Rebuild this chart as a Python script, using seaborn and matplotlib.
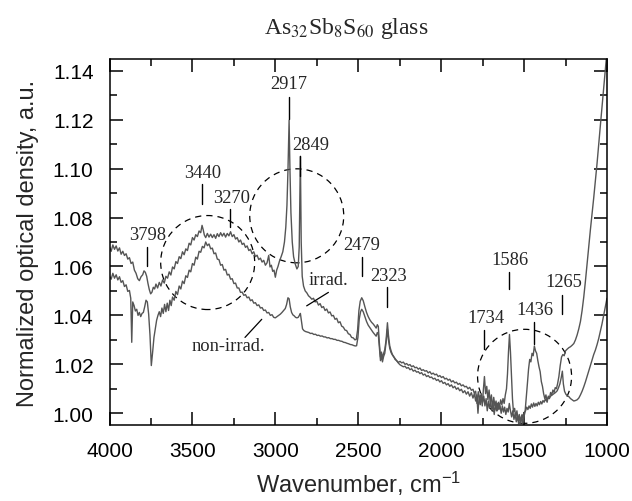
import numpy as np
import pandas as pd
import matplotlib
matplotlib.use("Agg")
import matplotlib.pyplot as plt
from matplotlib.patches import Ellipse
import seaborn as sns

# spectra (wavenumber cm-1, normalized optical density)
irrad_pts = [
    (4000, 1.0680), (3990, 1.0662), (3980, 1.0688), (3970, 1.0670), (3960, 1.0684), (3950, 1.0663),
    (3940, 1.0676), (3930, 1.0650), (3920, 1.0662), (3910, 1.0645), (3900, 1.0652), (3890, 1.0630),
    (3880, 1.0636), (3870, 1.0612), (3860, 1.0618), (3850, 1.0585), (3840, 1.0572), (3830, 1.0550),
    (3820, 1.0542), (3810, 1.0558), (3800, 1.0566), (3792, 1.0582), (3784, 1.0576), (3776, 1.0560),
    (3768, 1.0530), (3760, 1.0505), (3752, 1.0488), (3744, 1.0495), (3736, 1.0515), (3728, 1.0508),
    (3720, 1.0528), (3710, 1.0512), (3700, 1.0535), (3690, 1.0520), (3680, 1.0545), (3670, 1.0532),
    (3660, 1.0560), (3650, 1.0552), (3640, 1.0578), (3630, 1.0565), (3620, 1.0598), (3610, 1.0590),
    (3600, 1.0620), (3590, 1.0612), (3580, 1.0640), (3570, 1.0632), (3560, 1.0660), (3550, 1.0648),
    (3540, 1.0672), (3530, 1.0665), (3520, 1.0695), (3510, 1.0688), (3500, 1.0718), (3490, 1.0708),
    (3480, 1.0730), (3470, 1.0722), (3460, 1.0745), (3450, 1.0738), (3442, 1.0768), (3435, 1.0750),
    (3428, 1.0728), (3420, 1.0718), (3410, 1.0735), (3400, 1.0720), (3390, 1.0732), (3380, 1.0718),
    (3370, 1.0730), (3360, 1.0715), (3350, 1.0734), (3340, 1.0722), (3330, 1.0738), (3320, 1.0724),
    (3310, 1.0736), (3300, 1.0720), (3290, 1.0735), (3280, 1.0725), (3270, 1.0742), (3260, 1.0722),
    (3250, 1.0730), (3240, 1.0712), (3230, 1.0718), (3220, 1.0700), (3210, 1.0708), (3200, 1.0690),
    (3190, 1.0695), (3180, 1.0678), (3170, 1.0684), (3160, 1.0665), (3150, 1.0670), (3140, 1.0652),
    (3130, 1.0660), (3120, 1.0640), (3110, 1.0646), (3100, 1.0628), (3090, 1.0634), (3080, 1.0618),
    (3070, 1.0625), (3060, 1.0605), (3050, 1.0615), (3040, 1.0645), (3032, 1.0598), (3024, 1.0605),
    (3016, 1.0580), (3008, 1.0585), (3000, 1.0556), (2992, 1.0585), (2984, 1.0600), (2975, 1.0622),
    (2965, 1.0640), (2955, 1.0660), (2945, 1.0700), (2937, 1.0760), (2930, 1.0850), (2924, 1.0990),
    (2917, 1.1198), (2912, 1.1000), (2906, 1.0820), (2898, 1.0700), (2890, 1.0640), (2880, 1.0610),
    (2870, 1.0590), (2862, 1.0600), (2856, 1.0680), (2849, 1.1050), (2844, 1.0700), (2838, 1.0560),
    (2830, 1.0520), (2820, 1.0500), (2810, 1.0492), (2800, 1.0480), (2790, 1.0474), (2780, 1.0466),
    (2770, 1.0470), (2760, 1.0455), (2750, 1.0458), (2740, 1.0442), (2730, 1.0448), (2720, 1.0432),
    (2710, 1.0436), (2700, 1.0420), (2690, 1.0426), (2680, 1.0410), (2670, 1.0414), (2660, 1.0398),
    (2650, 1.0400), (2640, 1.0384), (2630, 1.0388), (2620, 1.0370), (2610, 1.0374), (2600, 1.0356),
    (2590, 1.0352), (2580, 1.0340), (2570, 1.0338), (2560, 1.0325), (2550, 1.0322), (2540, 1.0310),
    (2530, 1.0308), (2520, 1.0300), (2512, 1.0302), (2504, 1.0340), (2496, 1.0420), (2488, 1.0458),
    (2479, 1.0472), (2470, 1.0460), (2460, 1.0435), (2450, 1.0412), (2440, 1.0395), (2430, 1.0382),
    (2420, 1.0372), (2410, 1.0365), (2400, 1.0356), (2392, 1.0348), (2385, 1.0362), (2379, 1.0355),
    (2373, 1.0290), (2366, 1.0230), (2360, 1.0250), (2354, 1.0225), (2347, 1.0245), (2340, 1.0260),
    (2332, 1.0300), (2324, 1.0370), (2318, 1.0320), (2310, 1.0275), (2302, 1.0255), (2294, 1.0240),
    (2286, 1.0232), (2278, 1.0220), (2268, 1.0215), (2258, 1.0208), (2248, 1.0212), (2238, 1.0206),
    (2228, 1.0209), (2218, 1.0200), (2208, 1.0203), (2198, 1.0196), (2188, 1.0199), (2178, 1.0190),
    (2168, 1.0194), (2158, 1.0186), (2148, 1.0188), (2138, 1.0180), (2128, 1.0185), (2118, 1.0175),
    (2108, 1.0178), (2098, 1.0172), (2088, 1.0174), (2078, 1.0165), (2068, 1.0170), (2058, 1.0160),
    (2048, 1.0164), (2038, 1.0157), (2028, 1.0160), (2018, 1.0150), (2008, 1.0154), (1998, 1.0146),
    (1988, 1.0150), (1978, 1.0140), (1968, 1.0143), (1958, 1.0135), (1948, 1.0139), (1938, 1.0128),
    (1928, 1.0133), (1918, 1.0124), (1908, 1.0127), (1898, 1.0118), (1888, 1.0122), (1878, 1.0112),
    (1868, 1.0116), (1858, 1.0108), (1848, 1.0110), (1838, 1.0100), (1828, 1.0106), (1818, 1.0094),
    (1808, 1.0098), (1800, 1.0082), (1792, 1.0090), (1784, 1.0040), (1776, 1.0088), (1768, 1.0060),
    (1760, 1.0075), (1752, 1.0030), (1745, 1.0100), (1739, 1.0150), (1732, 1.0080), (1725, 1.0110),
    (1718, 1.0055), (1711, 1.0095), (1704, 1.0040), (1697, 1.0075), (1690, 1.0020), (1683, 1.0065),
    (1676, 1.0030), (1669, 1.0050), (1662, 1.0010), (1655, 1.0045), (1648, 1.0025), (1641, 1.0055),
    (1634, 1.0035), (1627, 1.0060), (1620, 1.0040), (1613, 1.0075), (1606, 1.0100), (1600, 1.0160),
    (1594, 1.0250), (1588, 1.0322), (1582, 1.0250), (1576, 1.0150), (1570, 1.0060), (1564, 1.0005),
    (1557, 1.0020), (1550, 0.9985), (1543, 1.0010), (1536, 0.9970), (1529, 0.9995), (1522, 0.9960),
    (1515, 0.9990), (1508, 0.9958), (1501, 0.9985), (1494, 1.0005), (1487, 1.0060), (1480, 1.0120),
    (1473, 1.0180), (1466, 1.0220), (1459, 1.0210), (1452, 1.0245), (1445, 1.0235), (1438, 1.0275),
    (1431, 1.0255), (1424, 1.0245), (1417, 1.0215), (1410, 1.0190), (1403, 1.0170), (1396, 1.0130),
    (1389, 1.0110), (1382, 1.0080), (1375, 1.0060), (1368, 1.0075), (1361, 1.0045), (1354, 1.0070),
    (1347, 1.0060), (1340, 1.0085), (1333, 1.0075), (1326, 1.0095), (1319, 1.0085), (1312, 1.0105),
    (1305, 1.0100), (1298, 1.0120), (1290, 1.0150), (1282, 1.0195), (1274, 1.0230), (1266, 1.0240),
    (1258, 1.0235), (1250, 1.0255), (1240, 1.0262), (1230, 1.0268), (1220, 1.0272), (1210, 1.0278),
    (1200, 1.0285), (1190, 1.0300), (1180, 1.0320), (1170, 1.0345), (1160, 1.0375), (1150, 1.0420),
    (1140, 1.0475), (1130, 1.0540), (1120, 1.0610), (1110, 1.0680), (1100, 1.0750), (1090, 1.0815),
    (1080, 1.0880), (1070, 1.0950), (1060, 1.1020), (1050, 1.1100), (1040, 1.1175), (1030, 1.1250),
    (1020, 1.1320), (1010, 1.1400), (1004, 1.1450), (1000, 1.1480),
]

nonirrad_pts = [
    (4000, 1.0560), (3990, 1.0548), (3980, 1.0572), (3970, 1.0552), (3960, 1.0566), (3950, 1.0545),
    (3940, 1.0558), (3930, 1.0535), (3920, 1.0542), (3910, 1.0518), (3900, 1.0525), (3890, 1.0498),
    (3880, 1.0502), (3872, 1.0470), (3866, 1.0290), (3860, 1.0455), (3852, 1.0440), (3844, 1.0418),
    (3836, 1.0425), (3828, 1.0400), (3820, 1.0412), (3812, 1.0395), (3804, 1.0408), (3796, 1.0412),
    (3788, 1.0435), (3780, 1.0462), (3772, 1.0455), (3764, 1.0405), (3756, 1.0320), (3748, 1.0195),
    (3740, 1.0250), (3732, 1.0310), (3724, 1.0345), (3716, 1.0380), (3708, 1.0400), (3700, 1.0415),
    (3692, 1.0395), (3684, 1.0430), (3676, 1.0408), (3668, 1.0445), (3660, 1.0415), (3652, 1.0450),
    (3644, 1.0420), (3636, 1.0462), (3628, 1.0440), (3620, 1.0475), (3610, 1.0462), (3600, 1.0498),
    (3590, 1.0485), (3580, 1.0520), (3570, 1.0508), (3560, 1.0540), (3550, 1.0530), (3540, 1.0562),
    (3530, 1.0555), (3520, 1.0585), (3510, 1.0578), (3500, 1.0612), (3490, 1.0605), (3480, 1.0638),
    (3470, 1.0630), (3460, 1.0662), (3450, 1.0658), (3440, 1.0682), (3430, 1.0676), (3420, 1.0700),
    (3410, 1.0685), (3400, 1.0692), (3390, 1.0672), (3380, 1.0675), (3370, 1.0652), (3360, 1.0655),
    (3350, 1.0630), (3340, 1.0628), (3330, 1.0605), (3320, 1.0608), (3310, 1.0585), (3300, 1.0588),
    (3290, 1.0565), (3280, 1.0568), (3270, 1.0548), (3260, 1.0550), (3250, 1.0530), (3240, 1.0532),
    (3230, 1.0512), (3220, 1.0512), (3210, 1.0494), (3200, 1.0495), (3190, 1.0482), (3180, 1.0485),
    (3170, 1.0472), (3160, 1.0475), (3150, 1.0460), (3140, 1.0464), (3130, 1.0450), (3120, 1.0452),
    (3110, 1.0440), (3100, 1.0443), (3090, 1.0430), (3080, 1.0432), (3070, 1.0420), (3060, 1.0422),
    (3050, 1.0410), (3040, 1.0412), (3030, 1.0400), (3020, 1.0403), (3010, 1.0392), (3000, 1.0390),
    (2990, 1.0395), (2980, 1.0400), (2970, 1.0405), (2960, 1.0412), (2950, 1.0420), (2940, 1.0428),
    (2932, 1.0445), (2924, 1.0472), (2917, 1.0468), (2910, 1.0435), (2902, 1.0412), (2894, 1.0402),
    (2886, 1.0398), (2878, 1.0392), (2870, 1.0390), (2862, 1.0392), (2855, 1.0400), (2849, 1.0408),
    (2843, 1.0380), (2836, 1.0345), (2828, 1.0338), (2818, 1.0334), (2808, 1.0332), (2798, 1.0330),
    (2788, 1.0326), (2778, 1.0327), (2768, 1.0322), (2758, 1.0323), (2748, 1.0318), (2738, 1.0319),
    (2728, 1.0315), (2718, 1.0316), (2708, 1.0312), (2698, 1.0312), (2688, 1.0308), (2678, 1.0309),
    (2668, 1.0305), (2658, 1.0305), (2648, 1.0302), (2638, 1.0302), (2628, 1.0298), (2618, 1.0298),
    (2608, 1.0295), (2598, 1.0294), (2588, 1.0290), (2578, 1.0289), (2568, 1.0286), (2558, 1.0284),
    (2548, 1.0281), (2538, 1.0280), (2528, 1.0277), (2518, 1.0275), (2510, 1.0276), (2502, 1.0310),
    (2494, 1.0385), (2486, 1.0415), (2479, 1.0425), (2470, 1.0415), (2460, 1.0395), (2450, 1.0375),
    (2440, 1.0360), (2430, 1.0350), (2420, 1.0340), (2410, 1.0330), (2400, 1.0322), (2392, 1.0315),
    (2385, 1.0330), (2379, 1.0322), (2373, 1.0270), (2366, 1.0215), (2360, 1.0235), (2354, 1.0210),
    (2347, 1.0232), (2340, 1.0245), (2332, 1.0290), (2324, 1.0344), (2318, 1.0300), (2310, 1.0265),
    (2302, 1.0248), (2294, 1.0238), (2286, 1.0230), (2278, 1.0224), (2268, 1.0214), (2258, 1.0205),
    (2248, 1.0198), (2238, 1.0194), (2228, 1.0190), (2218, 1.0192), (2208, 1.0184), (2198, 1.0187),
    (2188, 1.0178), (2178, 1.0182), (2168, 1.0172), (2158, 1.0176), (2148, 1.0168), (2138, 1.0170),
    (2128, 1.0162), (2118, 1.0166), (2108, 1.0156), (2098, 1.0160), (2088, 1.0150), (2078, 1.0154),
    (2068, 1.0146), (2058, 1.0148), (2048, 1.0140), (2038, 1.0143), (2028, 1.0134), (2018, 1.0138),
    (2008, 1.0128), (1998, 1.0133), (1988, 1.0122), (1978, 1.0126), (1968, 1.0116), (1958, 1.0121),
    (1948, 1.0110), (1938, 1.0116), (1928, 1.0104), (1918, 1.0110), (1908, 1.0098), (1898, 1.0104),
    (1888, 1.0092), (1878, 1.0098), (1868, 1.0084), (1858, 1.0092), (1848, 1.0078), (1838, 1.0088),
    (1828, 1.0070), (1818, 1.0084), (1808, 1.0062), (1800, 1.0080), (1792, 1.0050), (1785, 1.0075),
    (1778, 1.0000), (1771, 1.0070), (1764, 1.0035), (1757, 1.0080), (1750, 1.0045), (1743, 1.0070),
    (1736, 1.0030), (1729, 1.0060), (1722, 1.0010), (1715, 1.0050), (1708, 1.0020), (1701, 1.0045),
    (1694, 1.0010), (1687, 1.0040), (1680, 0.9995), (1673, 1.0035), (1666, 1.0010), (1659, 1.0040),
    (1652, 1.0015), (1645, 1.0030), (1638, 1.0000), (1631, 1.0030), (1624, 1.0005), (1617, 1.0025),
    (1610, 0.9995), (1603, 1.0020), (1596, 1.0005), (1589, 1.0040), (1582, 1.0010), (1575, 0.9985),
    (1568, 1.0010), (1561, 0.9975), (1554, 0.9998), (1547, 0.9965), (1540, 0.9990), (1533, 0.9958),
    (1526, 0.9985), (1519, 0.9965), (1512, 0.9995), (1505, 0.9975), (1498, 1.0005), (1491, 1.0010),
    (1484, 1.0025), (1477, 1.0015), (1470, 1.0030), (1463, 1.0020), (1456, 1.0038), (1449, 1.0025),
    (1442, 1.0042), (1435, 1.0028), (1428, 1.0040), (1421, 1.0030), (1414, 1.0045), (1407, 1.0035),
    (1400, 1.0048), (1393, 1.0038), (1386, 1.0052), (1379, 1.0045), (1372, 1.0058), (1365, 1.0050),
    (1358, 1.0062), (1350, 1.0060), (1340, 1.0070), (1330, 1.0075), (1320, 1.0080), (1310, 1.0085),
    (1300, 1.0092), (1292, 1.0105), (1284, 1.0120), (1276, 1.0145), (1269, 1.0172), (1263, 1.0120),
    (1256, 1.0090), (1248, 1.0078), (1240, 1.0072), (1230, 1.0068), (1220, 1.0060), (1210, 1.0055),
    (1200, 1.0050), (1190, 1.0052), (1180, 1.0055), (1170, 1.0062), (1160, 1.0075), (1150, 1.0090),
    (1140, 1.0108), (1130, 1.0128), (1120, 1.0150), (1110, 1.0172), (1100, 1.0195), (1090, 1.0218),
    (1080, 1.0240), (1070, 1.0258), (1060, 1.0280), (1050, 1.0305), (1040, 1.0335), (1030, 1.0365),
    (1020, 1.0400), (1010, 1.0435), (1000, 1.0470),
]

wn_irrad, od_irrad = map(list, zip(*irrad_pts))
wn_nonirrad, od_nonirrad = map(list, zip(*nonirrad_pts))

# peak labels: text position, and the small vertical marker (wavenumber, bottom, top)
peak_text = ["3798", "3440", "3270", "2917", "2849", "2479", "2323", "1734", "1586", "1436", "1265"]
peak_text_xy = [(3771, 1.0732), (3440, 1.0986), (3264, 1.0883), (2917, 1.1346), (2788, 1.1100),
                (2479, 1.0691), (2314, 1.0562), (1732, 1.0393), (1584, 1.0630), (1434, 1.0423),
                (1261, 1.0537)]
peak_marks = [(3776, 1.0601, 1.0679), (3440, 1.0855, 1.0937), (3273, 1.0761, 1.0834),
              (2917, 1.1202, 1.1292), (2849, 1.0970, 1.1051), (2479, 1.0560, 1.0638),
              (2324, 1.0434, 1.0515), (1739, 1.0262, 1.0340), (1590, 1.0507, 1.0577),
              (1438, 1.0282, 1.0372), (1269, 1.0405, 1.0483)]

# dashed circles (centre in data, radius in pixels)
circle_centres = [(3408, 1.0616), (2871, 1.0807), (1497, 1.0151)]
circle_radius_px = 47

sns.set_style("ticks")
plt.rcParams['font.family'] = ['Liberation Sans', 'DejaVu Sans']
plt.rcParams['mathtext.fontset'] = 'custom'
plt.rcParams['mathtext.rm'] = 'Liberation Sans'
plt.rcParams['mathtext.it'] = 'Liberation Sans:italic'

line_col = '#555555'
serif = ['Liberation Serif', 'DejaVu Serif']

fig = plt.figure(figsize=(6.32, 5.02), dpi=100)
ax = fig.add_axes([0.1733, 0.1514, 0.7871, 0.7291])

df_i = pd.DataFrame({'wn': wn_irrad, 'od': od_irrad})
df_n = pd.DataFrame({'wn': wn_nonirrad, 'od': od_nonirrad})
sns.lineplot(data=df_n, x='wn', y='od', ax=ax, color=line_col, lw=1.0, estimator=None, sort=False)
sns.lineplot(data=df_i, x='wn', y='od', ax=ax, color=line_col, lw=1.0, estimator=None, sort=False)

ax.set_xlim(4000, 1000)
ax.set_ylim(0.9952, 1.1448)
ax.set_xticks([4000, 3500, 3000, 2500, 2000, 1500, 1000])
ax.set_xticks(np.arange(1000, 4001, 250), minor=True)
ax.set_yticks(np.arange(1.00, 1.141, 0.02))
ax.set_yticks(np.arange(1.00, 1.141, 0.01), minor=True)
ax.yaxis.set_major_formatter(matplotlib.ticker.FormatStrFormatter('%.2f'))
ax.tick_params(which='both', direction='in', top=True, right=True, width=1.1,
               labelsize=15, pad=11.5, colors='k')
ax.tick_params(which='major', length=9.5)
ax.tick_params(which='minor', length=5)
for s in ax.spines.values():
    s.set_linewidth(1.1)
    s.set_color('k')

ax.set_xlabel('Wavenumber, cm$^{-1}$', fontsize=17, labelpad=6)
ax.set_ylabel('Normalized optical density, a.u.', fontsize=17, labelpad=10)

fig.text(0.5475, 0.9323, 'As$_{32}$Sb$_{8}$S$_{60}$ glass', ha='center', va='baseline',
         fontsize=17, family=serif, math_fontfamily='stix')

for txt, (tx, ty), (mx, m0, m1) in zip(peak_text, peak_text_xy, peak_marks):
    ax.text(tx, ty, txt, ha='center', va='center', fontsize=13.3, family=serif)
    ax.plot([mx, mx], [m0, m1], color='k', lw=1.0)

ax.text(2679, 1.0548, 'irrad.', ha='center', va='center', fontsize=13.3, family=serif)
ax.plot([2680, 2811], [1.0494, 1.0439], color='k', lw=0.9)
ax.text(3284, 1.0275, 'non-irrad.', ha='center', va='center', fontsize=13.3, family=serif)
ax.plot([3183, 3082], [1.0310, 1.0384], color='k', lw=0.9)

# circles: convert pixel radius to data units so they stay round
ax_w_px = 0.7871 * 632
ax_h_px = 0.7291 * 502
dx = 2 * circle_radius_px * 3000 / ax_w_px
dy = 2 * circle_radius_px * (1.1448 - 0.9952) / ax_h_px
for cx, cy in circle_centres:
    ax.add_patch(Ellipse((cx, cy), dx, dy, fill=False, ec='k', lw=0.9, ls=(0, (5, 4))))

fig.savefig('out.png', dpi=100)
